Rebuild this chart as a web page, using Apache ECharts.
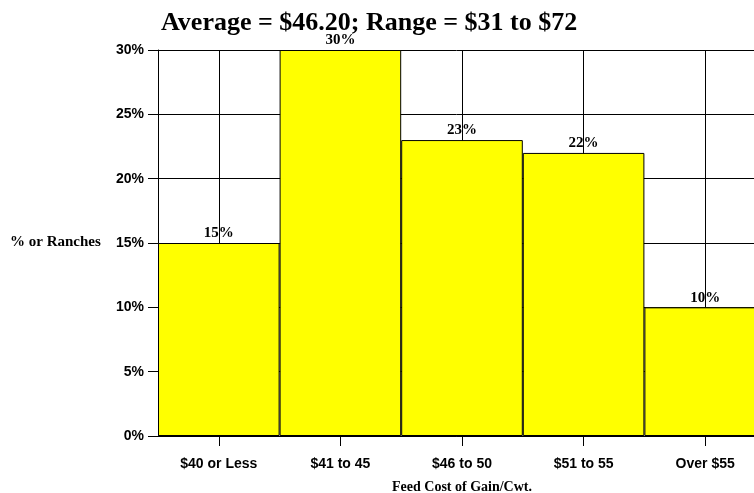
<!DOCTYPE html>
<html><head><meta charset="utf-8">
<script src="https://cdn.jsdelivr.net/npm/echarts@6/dist/echarts.min.js"></script>
<style>html,body{margin:0;padding:0;background:#fff}#c{width:754px;height:493px}</style>
</head><body><div id="c"></div>
<script>
const categories = ['$40 or Less', '$41 to 45', '$46 to 50', '$51 to 55', 'Over $55'];
const values = [15, 30, 23, 22, 10];
const yTicks = [0, 5, 10, 15, 20, 25, 30];
const titleText = 'Average = $46.20; Range = $31 to $72';
const xName = 'Feed Cost of Gain/Cwt.';
const yName = '% or Ranches';
// helper half-slot positions so vertical grid lines fall at category centres
const halfSlots = ['0','1','2','3','4','5','6','7','8','9','10'];

const chart = echarts.init(document.getElementById('c'), null, {renderer: 'canvas'});
chart.setOption({
  animation: false,
  backgroundColor: '#fff',
  title: {
    text: titleText, left: 156, top: 5,
    textStyle: {fontFamily: 'Liberation Serif', fontWeight: 'bold', fontSize: 26, color: '#000'}
  },
  grid: {left: 158, top: 50, width: 608, height: 386, containLabel: false, outerBoundsMode: 'none'},
  graphic: [{
    type: 'text', left: 10, top: 235,
    style: {text: yName, font: 'bold 15px "Liberation Serif"', fill: '#000'}
  }],
  xAxis: [{
    type: 'category', data: categories,
    name: xName, nameLocation: 'middle', nameGap: 44,
    nameTextStyle: {fontFamily: 'Liberation Serif', fontWeight: 'bold', fontSize: 14, color: '#000'},
    axisLine: {lineStyle: {color: '#000', width: 1}},
    axisTick: {show: true, alignWithLabel: true, length: 10, lineStyle: {color: '#000'}},
    axisLabel: {margin: 21, fontFamily: 'Liberation Sans', fontWeight: 'bold', fontSize: 14, color: '#000'},
    splitLine: {show: false}
  }, {
    type: 'category', data: halfSlots, boundaryGap: false, position: 'bottom',
    axisLine: {show: false}, axisTick: {show: false}, axisLabel: {show: false},
    splitLine: {show: true, interval: (i) => i % 2 === 1, lineStyle: {color: '#000', width: 1}}
  }],
  yAxis: {
    type: 'value', min: 0, max: 30, interval: 5,
    axisLine: {show: true, lineStyle: {color: '#000', width: 1}},
    axisTick: {show: true, length: 10, lineStyle: {color: '#000'}},
    axisLabel: {margin: 14, formatter: v => yTicks.includes(v) ? v + '%' : '', fontFamily: 'Liberation Sans', fontWeight: 'bold', fontSize: 14, color: '#000'},
    splitLine: {show: true, lineStyle: {color: '#000', width: 1}}
  },
  series: [{
    type: 'bar', data: values, xAxisIndex: 0, barWidth: '100%', barGap: '0%',
    itemStyle: {color: '#ffff00', borderColor: '#000', borderWidth: 1},
    label: {show: true, position: 'top', distance: 2, formatter: p => p.value + '%',
      fontFamily: 'Liberation Serif', fontWeight: 'bold', fontSize: 15, color: '#000'}
  }]
});
</script></body></html>
